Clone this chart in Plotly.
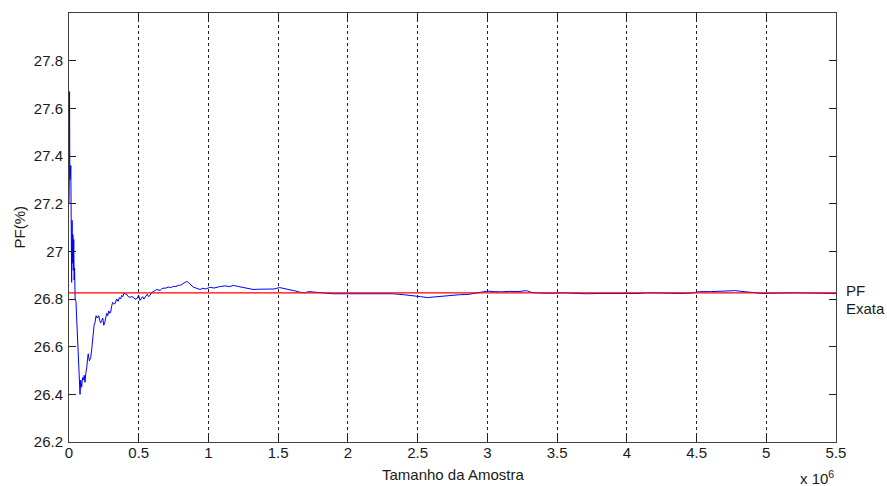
import plotly.graph_objects as go

# Sample size (in units of 1e6) and running PF estimate (%)
sample_size = [0.000, 0.002, 0.004, 0.006, 0.008, 0.010, 0.013, 0.016, 0.019, 0.022, 0.025, 0.028,
               0.031, 0.034, 0.037, 0.040, 0.044, 0.050, 0.055, 0.060, 0.067, 0.074, 0.079, 0.084,
               0.091, 0.097, 0.103, 0.109, 0.115, 0.121, 0.127, 0.133, 0.138, 0.146, 0.156, 0.165,
               0.174, 0.180, 0.186, 0.194, 0.203, 0.213, 0.220, 0.227, 0.235, 0.242, 0.249, 0.256,
               0.263, 0.270, 0.278, 0.285, 0.292, 0.299, 0.306, 0.313, 0.322, 0.330, 0.342, 0.352,
               0.361, 0.370, 0.378, 0.386, 0.394, 0.405, 0.414, 0.425, 0.437, 0.449, 0.461, 0.473,
               0.485, 0.500, 0.509, 0.518, 0.528, 0.537, 0.545, 0.553, 0.561, 0.570, 0.581, 0.590,
               0.600, 0.615, 0.629, 0.640, 0.653, 0.665, 0.676, 0.690, 0.712, 0.730, 0.748, 0.766,
               0.784, 0.800, 0.820, 0.835, 0.844, 0.855, 0.868, 0.880, 0.891, 0.910, 0.927, 0.940,
               0.960, 0.980, 1.010, 1.040, 1.080, 1.120, 1.150, 1.180, 1.210, 1.250, 1.280, 1.320,
               1.360, 1.420, 1.470, 1.510, 1.550, 1.580, 1.620, 1.660, 1.690, 1.720, 1.760, 1.800,
               1.850, 1.890, 1.940, 1.990, 2.050, 2.100, 2.170, 2.250, 2.320, 2.400, 2.470, 2.520,
               2.570, 2.620, 2.660, 2.720, 2.800, 2.860, 2.900, 2.950, 3.000, 3.050, 3.100, 3.160,
               3.220, 3.280, 3.320, 3.380, 3.450, 3.550, 3.620, 3.700, 3.800, 3.900, 4.000, 4.080,
               4.150, 4.200, 4.300, 4.400, 4.480, 4.520, 4.600, 4.680, 4.720, 4.780, 4.820, 4.860,
               4.920, 4.980, 5.030, 5.100, 5.200, 5.300, 5.380, 5.450, 5.500]

pf_estimate = [27.20, 27.30, 27.67, 27.30, 27.50, 27.31, 27.36, 27.10, 26.87, 27.13, 26.95, 27.07,
               26.92, 27.05, 26.88, 26.93, 26.80, 26.79, 26.72, 26.655, 26.54, 26.46, 26.40, 26.46,
               26.43, 26.47, 26.46, 26.48, 26.45, 26.49, 26.51, 26.55, 26.57, 26.54, 26.555, 26.60,
               26.68, 26.69, 26.70, 26.73, 26.72, 26.73, 26.71, 26.70, 26.71, 26.72, 26.69, 26.70,
               26.72, 26.74, 26.73, 26.75, 26.74, 26.745, 26.77, 26.786, 26.78, 26.78, 26.80, 26.79,
               26.806, 26.80, 26.815, 26.81, 26.825, 26.82, 26.82, 26.81, 26.807, 26.81, 26.808, 26.80,
               26.80, 26.815, 26.794, 26.805, 26.81, 26.80, 26.806, 26.815, 26.82, 26.81, 26.815, 26.825,
               26.83, 26.835, 26.84, 26.838, 26.836, 26.842, 26.846, 26.845, 26.85, 26.848, 26.853, 26.852,
               26.857, 26.858, 26.867, 26.87, 26.874, 26.87, 26.864, 26.855, 26.85, 26.846, 26.843, 26.84,
               26.845, 26.842, 26.849, 26.846, 26.852, 26.855, 26.852, 26.857, 26.853, 26.849, 26.845, 26.840,
               26.841, 26.843, 26.842, 26.848, 26.844, 26.840, 26.834, 26.828, 26.826, 26.831, 26.828, 26.828,
               26.824, 26.822, 26.822, 26.823, 26.822, 26.823, 26.822, 26.821, 26.822, 26.818, 26.815, 26.810,
               26.806, 26.809, 26.812, 26.814, 26.818, 26.819, 26.823, 26.826, 26.833, 26.831, 26.830, 26.832,
               26.831, 26.835, 26.827, 26.825, 26.824, 26.826, 26.823, 26.822, 26.823, 26.822, 26.822, 26.823,
               26.826, 26.825, 26.823, 26.823, 26.826, 26.831, 26.831, 26.832, 26.835, 26.835, 26.832, 26.829,
               26.826, 26.823, 26.824, 26.826, 26.826, 26.825, 26.823, 26.822, 26.823]

pf_exact = 26.826
x_range = [0, 5.5]
y_range = [26.2, 28.0]

x_ticks = [0, 0.5, 1, 1.5, 2, 2.5, 3, 3.5, 4, 4.5, 5, 5.5]
x_ticktext = ["0", "0.5", "1", "1.5", "2", "2.5", "3", "3.5", "4", "4.5", "5", "5.5"]
y_ticks = [26.2, 26.4, 26.6, 26.8, 27.0, 27.2, 27.4, 27.6, 27.8]
y_ticktext = ["26.2", "26.4", "26.6", "26.8", "27", "27.2", "27.4", "27.6", "27.8"]

FONT = "Liberation Sans, Arial, sans-serif"
TXT = "#1a1a1a"
FS = 15

fig = go.Figure()
fig.add_trace(go.Scatter(x=sample_size, y=pf_estimate, mode="lines",
                         line=dict(color="#0000ff", width=1), showlegend=False))
fig.add_trace(go.Scatter(x=x_range, y=[pf_exact, pf_exact], mode="lines",
                         line=dict(color="#ff0000", width=1.3), showlegend=False))

axis_common = dict(showline=True, linecolor="#404040", linewidth=1, mirror="ticks",
                   ticks="inside", ticklen=7, tickcolor="#202020", zeroline=False,
                   automargin=False,
                   tickfont=dict(family=FONT, size=FS, color=TXT))

fig.update_xaxes(range=x_range, tickvals=x_ticks, ticktext=x_ticktext,
                 showgrid=True, gridcolor="#222222", gridwidth=1, griddash="3px,3px",
                 ticklabelstandoff=-3, **axis_common)
fig.update_yaxes(range=y_range, tickvals=y_ticks, ticktext=y_ticktext, showgrid=False,
                 ticklabelstandoff=2, **axis_common)

# axis titles
fig.add_annotation(text="Tamanho da Amostra", xref="paper", yref="paper", x=0.5, y=0,
                   xanchor="center", yanchor="middle", yshift=-32, showarrow=False,
                   font=dict(family=FONT, size=FS, color=TXT))
fig.add_annotation(text="PF(%)", xref="paper", yref="paper", x=0, y=0.5, textangle=-90,
                   xanchor="center", yanchor="middle", xshift=-50, showarrow=False,
                   font=dict(family=FONT, size=FS, color=TXT))

fig.add_annotation(text="x 10<sup>6</sup>", xref="paper", yref="paper", x=1, y=0,
                   xanchor="right", yanchor="top", yshift=-24, showarrow=False,
                   font=dict(family=FONT, size=FS, color=TXT))
fig.add_annotation(text="PF", xref="paper", yref="y", x=1, y=pf_exact, xanchor="left",
                   yanchor="middle", xshift=8, yshift=2, showarrow=False,
                   font=dict(family=FONT, size=FS, color=TXT))
fig.add_annotation(text="Exata", xref="paper", yref="y", x=1, y=pf_exact, xanchor="left",
                   yanchor="middle", xshift=8, yshift=-16, showarrow=False,
                   font=dict(family=FONT, size=FS, color=TXT))

fig.update_layout(width=887, height=486, margin=dict(l=69, r=51, t=13, b=44),
                  plot_bgcolor="white", paper_bgcolor="white",
                  font=dict(family=FONT, size=FS))

fig.write_html("out.html", config={"displayModeBar": False},
               post_script="document.body.style.margin='0px';document.body.style.overflow='hidden';")
